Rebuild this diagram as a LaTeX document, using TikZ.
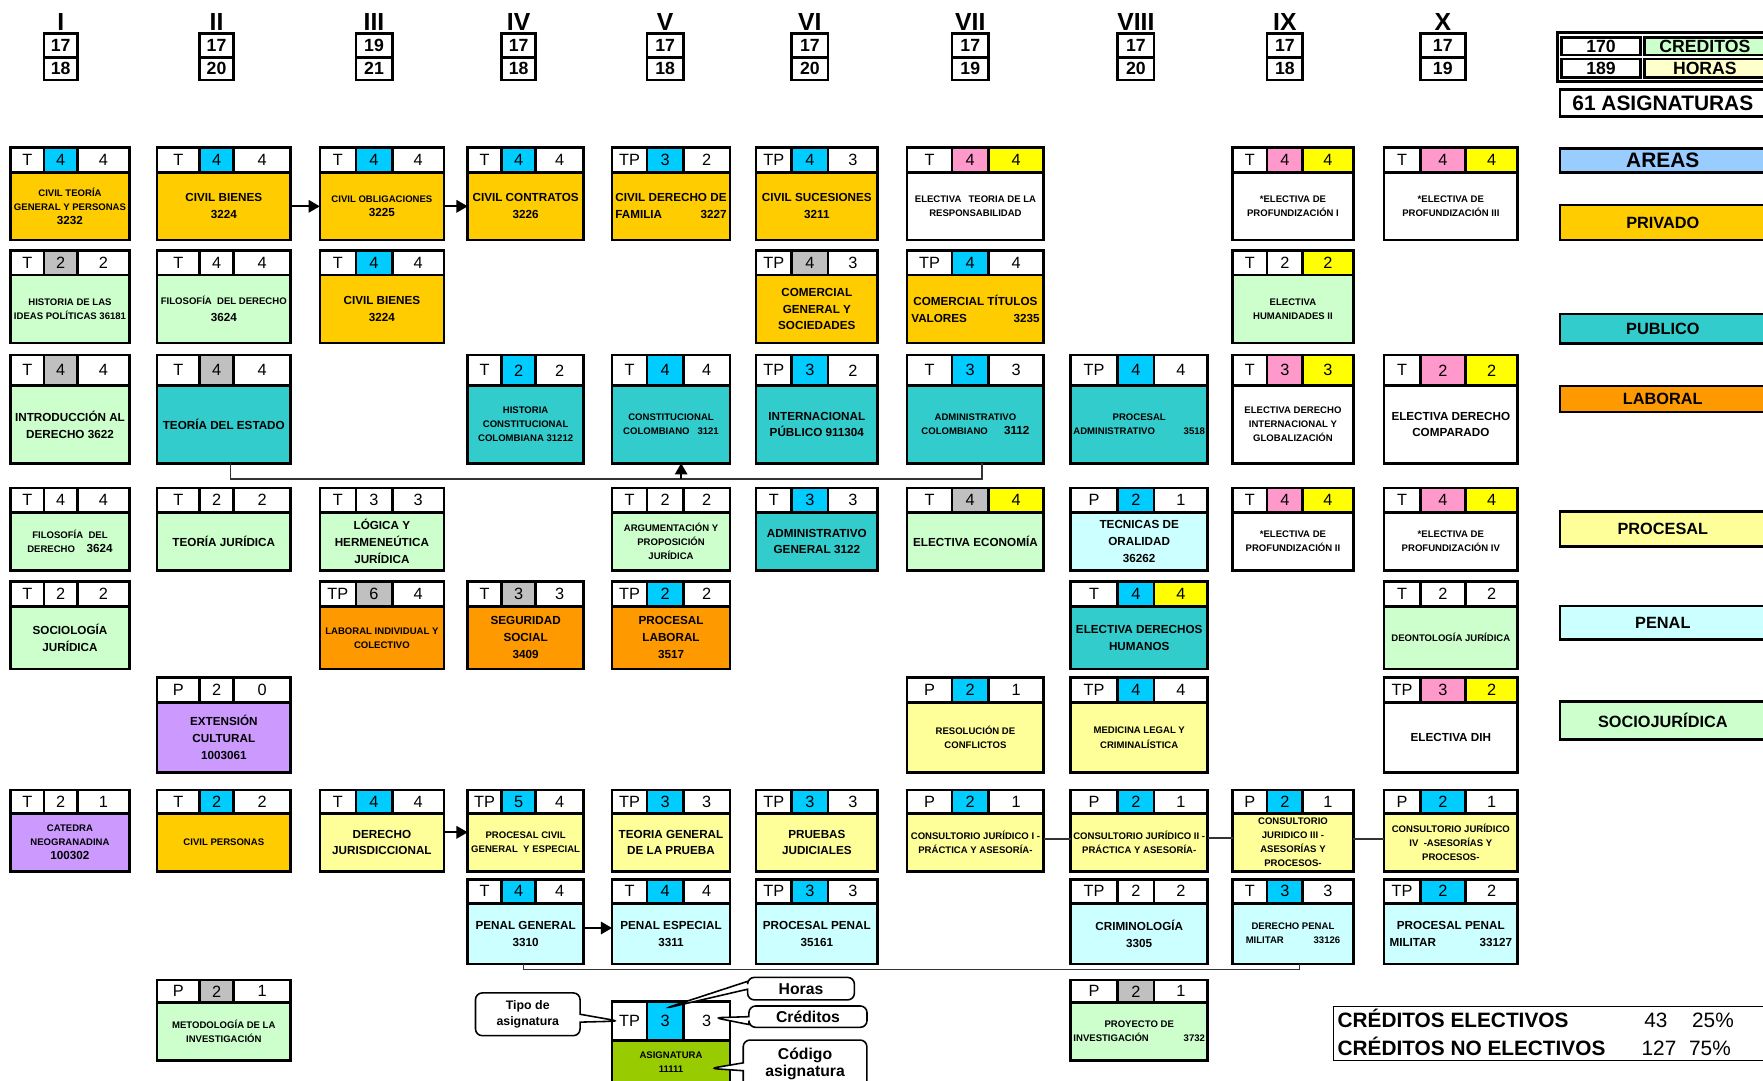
\documentclass[tikz,border=0pt]{standalone}
\usepackage{fontspec}
\setmainfont{Liberation Sans}
\usepackage{tikz}
\usetikzlibrary{positioning, arrows.meta, shapes.callouts, calc}

\definecolor{privado}{HTML}{FFCC00}
\definecolor{publico}{HTML}{33CCCC}
\definecolor{laboral}{HTML}{FF9900}
\definecolor{procesal}{HTML}{FFFF99}
\definecolor{penal}{HTML}{CCFFFF}
\definecolor{sociojur}{HTML}{CCFFCC}
\definecolor{areas}{HTML}{99CCFF}
\definecolor{morado}{HTML}{CC99FF}
\definecolor{verdeleg}{HTML}{99CC00}
\definecolor{celeste}{HTML}{00CCFF}
\definecolor{gris}{HTML}{C0C0C0}
\definecolor{rosa}{HTML}{FF99CC}
\definecolor{amarillo}{HTML}{FFFF00}
\definecolor{horascol}{HTML}{FFFFCC}

\newcommand{\fG}{\fontsize{10.4}{15}\selectfont\bfseries}
\newcommand{\fP}{\fontsize{8.5}{12.5}\selectfont\bfseries}
\newcommand{\dosl}[3]{\hbox to #1pt{#2\hfill #3}}

\tikzstyle{celda} = [draw, line width=2.4pt]
\tikzstyle{cuerpo} = [rectangle, draw, line width=2.4pt, inner sep=0pt, outer sep=0pt, anchor=north west, align=center, font=\fG]
\tikzstyle{digito} = [inner sep=0pt, font=\fontsize{14.5}{14.5}\selectfont]
\tikzstyle{romano} = [inner sep=0pt, font=\fontsize{22}{22}\selectfont\bfseries]
\tikzstyle{semnum} = [inner sep=0pt, font=\fontsize{15.7}{16}\selectfont\bfseries]
\tikzstyle{leyenda} = [rectangle, draw, line width=2.4pt, anchor=north west, inner sep=0pt, outer sep=0pt, font=\fontsize{14.5}{15}\selectfont\bfseries]
\tikzstyle{flecha} = [draw, line width=1.8pt, -{Triangle[length=10pt, width=11pt]}]
\tikzstyle{conector} = [draw, line width=1.3pt, black!80]
\tikzstyle{nota} = [rectangle callout, draw, line width=1.4pt, rounded corners=6pt, fill=white, inner sep=1pt, align=center, callout pointer width=7pt, font=\fontsize{14}{17}\selectfont\bfseries]
\tikzstyle{credt} = [inner sep=0pt, anchor=base west, font=\fontsize{18.5}{20}\selectfont\bfseries]
\tikzstyle{credn} = [inner sep=0pt, anchor=base, font=\fontsize{18.5}{20}\selectfont]

\tikzstyle{priv} = [fill=privado]
\tikzstyle{publ} = [fill=publico]
\tikzstyle{labo} = [fill=laboral]
\tikzstyle{proc} = [fill=procesal]
\tikzstyle{pena} = [fill=penal]
\tikzstyle{socio} = [fill=sociojur]
\tikzstyle{elec} = [fill=white]
\tikzstyle{mora} = [fill=morado]
\tikzstyle{muestra} = [fill=verdeleg]

% columns: left / end of type cell / end of middle cell / right
\def\columnaI{9.5/39/69/115}
\def\columnaII{139.5/177.6/207.6/258.6}
\def\columnaIII{284.5/316.5/348.8/394.8}
\def\columnaIV{416/446/476.5/519}
\def\columnaV{544.4/575.4/607.7/649.2}
\def\columnaVI{672.4/704/736.5/780.6}
\def\columnaVII{806.8/846.6/879.3/928.3}
\def\columnaVIII{952.2/994/1026.4/1074.2}
\def\columnaIX{1096.3/1126.9/1158.5/1203.6}
\def\columnaX{1230.8/1263.1/1303.3/1349.9}
% rows: top / end of header / bottom
\def\filaA{131.3/153.6/213.4}
\def\filaB{223/244.6/305}
\def\filaC{315.7/343/412}
\def\filaD{434/455.6/507.5}
\def\filaE{517.3/539.5/595}
\def\filaF{602.7/625/687.2}
\def\filaG{702.6/723.3/775.2}
\def\filaH{782/803.4/857.3}
\def\filaI{871.6/891.7/943.3}
\def\filaL{890.8/925.5/963}

\def\parsebox#1/#2/#3/#4/#5/#6/#7\relax{\def\cL{#1}\def\cA{#2}\def\cB{#3}\def\cR{#4}\def\rT{#5}\def\rH{#6}\def\rB{#7}}
\def\parsehead#1/#2/#3/#4/#5\relax{\def\hT{#1}\def\hMs{#2}\def\hM{#3}\def\hRs{#4}\def\hR{#5}}

% #1 name, #2 column, #3 row, #4 type/colour/hours/colour/credits, #5 body style, #6 text
\newcommand{\asig}[6]{%
  \edef\tmpbox{\csname columna#2\endcsname/\csname fila#3\endcsname}%
  \expandafter\parsebox\tmpbox\relax
  \parsehead#4\relax
  \filldraw[celda, fill=white] (\cL,\rT) rectangle (\cA,\rH);
  \filldraw[celda, fill=\hMs] (\cA,\rT) rectangle (\cB,\rH);
  \filldraw[celda, fill=\hRs] (\cB,\rT) rectangle (\cR,\rH);
  \node[digito] (#1-t) at ({(\cL+\cA)/2},{(\rT+\rH)/2}) {\hT};
  \node[digito] (#1-h) at ({(\cA+\cB)/2},{(\rT+\rH)/2}) {\hM};
  \node[digito] (#1-c) at ({(\cB+\cR)/2},{(\rT+\rH)/2}) {\hR};
  \node[cuerpo, #5, minimum width={\cR-\cL}, minimum height={\rB-\rH}] (#1) at (\cL,\rH) {#6};
}

% #1 name, #2 column, #3 numeral, #4 credits, #5 hours
\newcommand{\semestre}[5]{%
  \edef\tmpbox{\csname columna#2\endcsname/0/0/0}%
  \expandafter\parsebox\tmpbox\relax
  \node[romano, anchor=base] (#1) at ({(\cA+\cB)/2},26.7) {#3};
  \filldraw[celda, fill=white] (\cA,29.6) rectangle (\cB,51);
  \filldraw[celda, fill=white] (\cA,51) rectangle (\cB,71.1);
  \node[semnum] (#1-cr) at ({(\cA+\cB)/2},40.3) {#4};
  \node[semnum] (#1-hr) at ({(\cA+\cB)/2},61) {#5};
}

\begin{document}
\begin{tikzpicture}[x=1pt, y=-1pt]
        \useasboundingbox (0,0) rectangle (1568,961);
        \fill[white] (0,0) rectangle (1568,961);
        \clip (0,0) rectangle (1568,961);

        % Semesters
        \semestre{semI}{I}{I}{17}{18}
        \semestre{semII}{II}{II}{17}{20}
        \semestre{semIII}{III}{III}{19}{21}
        \semestre{semIV}{IV}{IV}{17}{18}
        \semestre{semV}{V}{V}{17}{18}
        \semestre{semVI}{VI}{VI}{17}{20}
        \semestre{semVII}{VII}{VII}{17}{19}
        \semestre{semVIII}{VIII}{VIII}{17}{20}
        \semestre{semIX}{IX}{IX}{17}{18}
        \semestre{semX}{X}{X}{17}{19}

        % Semester I
        \asig{civteoria}{I}{A}{T/celeste/4/white/4}{priv, font=\fP}{CIVIL TEORÍA\\GENERAL Y PERSONAS\\{\fG 3232}}
        \asig{histideas}{I}{B}{T/gris/2/white/2}{socio, font=\fP}{HISTORIA DE LAS\\IDEAS POLÍTICAS 36181}
        \asig{intder}{I}{C}{T/gris/4/white/4}{socio}{INTRODUCCIÓN AL\\DERECHO 3622}
        \asig{filder1}{I}{D}{T/white/4/white/4}{socio, font=\fP}{FILOSOFÍA\ \ DEL\\\dosl{76}{DERECHO}{{\fG 3624}}}
        \asig{socjur}{I}{E}{T/white/2/white/2}{socio}{SOCIOLOGÍA\\JURÍDICA}
        \asig{catedra}{I}{G}{T/white/2/white/1}{mora, font=\fP}{CATEDRA\\NEOGRANADINA\\{\fG 100302}}

        % Semester II
        \asig{civbienes}{II}{A}{T/celeste/4/white/4}{priv}{CIVIL BIENES\\3224}
        \asig{filder2}{II}{B}{T/white/4/white/4}{socio}{{\fP FILOSOFÍA\ \ DEL DERECHO}\\3624}
        \asig{teoest}{II}{C}{T/gris/4/white/4}{publ}{TEORÍA DEL ESTADO}
        \asig{teojur}{II}{D}{T/white/2/white/2}{socio}{TEORÍA JURÍDICA}
        \asig{extcult}{II}{F}{P/white/2/white/0}{mora}{EXTENSIÓN\\CULTURAL\\1003061}
        \asig{civper}{II}{G}{T/celeste/2/white/2}{priv, font=\fP}{CIVIL PERSONAS}
        \asig{metodo}{II}{I}{P/gris/2/white/1}{socio, font=\fP}{METODOLOGÍA DE LA\\INVESTIGACIÓN}

        % Semester III
        \asig{civoblig}{III}{A}{T/celeste/4/white/4}{priv, font=\fP}{CIVIL OBLIGACIONES\\{\fG 3225}}
        \asig{civbienes3}{III}{B}{T/celeste/4/white/4}{priv}{CIVIL BIENES\\3224}
        \asig{logica}{III}{D}{T/white/3/white/3}{socio}{LÓGICA Y\\HERMENEÚTICA\\JURÍDICA}
        \asig{labind}{III}{E}{TP/gris/6/white/4}{labo, font=\fP}{LABORAL INDIVIDUAL Y\\COLECTIVO}
        \asig{derjur}{III}{G}{T/celeste/4/white/4}{proc}{DERECHO\\JURISDICCIONAL}

        % Semester IV
        \asig{civcontr}{IV}{A}{T/celeste/4/white/4}{priv}{CIVIL CONTRATOS\\3226}
        \asig{histconst}{IV}{C}{T/celeste/2/white/2}{publ, font=\fP}{HISTORIA\\CONSTITUCIONAL\\COLOMBIANA 31212}
        \asig{segsoc}{IV}{E}{T/gris/3/white/3}{labo}{SEGURIDAD\\SOCIAL\\3409}
        \asig{proccivil}{IV}{G}{TP/celeste/5/white/4}{proc, font=\fP}{PROCESAL CIVIL\\GENERAL\ \ Y ESPECIAL}
        \asig{pengen}{IV}{H}{T/celeste/4/white/4}{pena}{PENAL GENERAL\\3310}

        % Semester V
        \asig{civfam}{V}{A}{TP/celeste/3/white/2}{priv}{CIVIL DERECHO DE\\\dosl{99}{FAMILIA}{3227}}
        \asig{constcol}{V}{C}{T/celeste/4/white/4}{publ, font=\fP}{CONSTITUCIONAL\\\dosl{85}{COLOMBIANO}{3121}}
        \asig{argum}{V}{D}{T/white/2/white/2}{socio, font=\fP}{ARGUMENTACIÓN Y\\PROPOSICIÓN\\JURÍDICA}
        \asig{proclab}{V}{E}{TP/celeste/2/white/2}{labo}{PROCESAL\\LABORAL\\3517}
        \asig{teoprueba}{V}{G}{TP/celeste/3/white/3}{proc}{TEORIA GENERAL\\DE LA PRUEBA}
        \asig{penesp}{V}{H}{T/celeste/4/white/4}{pena}{PENAL ESPECIAL\\3311}

        % Semester VI
        \asig{civsuc}{VI}{A}{TP/celeste/4/white/3}{priv}{CIVIL SUCESIONES\\3211}
        \asig{comgen}{VI}{B}{TP/gris/4/white/3}{priv}{COMERCIAL\\GENERAL Y\\SOCIEDADES}
        \asig{intpub}{VI}{C}{TP/celeste/3/white/2}{publ}{INTERNACIONAL\\PÚBLICO 911304}
        \asig{admgen}{VI}{D}{T/celeste/3/white/3}{publ}{ADMINISTRATIVO\\GENERAL 3122}
        \asig{pruebas}{VI}{G}{TP/celeste/3/white/3}{proc}{PRUEBAS\\JUDICIALES}
        \asig{procpen}{VI}{H}{TP/celeste/3/white/3}{pena}{PROCESAL PENAL\\35161}

        % Semester VII
        \asig{electres}{VII}{A}{T/rosa/4/amarillo/4}{elec, font=\fP}{ELECTIVA\hspace{4pt} TEORIA DE LA\\RESPONSABILIDAD}
        \asig{comtit}{VII}{B}{TP/celeste/4/white/4}{priv}{COMERCIAL TÍTULOS\\\dosl{114}{VALORES}{3235}}
        \asig{admcol}{VII}{C}{T/celeste/3/white/3}{publ, font=\fP}{ADMINISTRATIVO\\\dosl{96}{COLOMBIANO}{{\fG 3112}}}
        \asig{eleco}{VII}{D}{T/gris/4/amarillo/4}{socio}{ELECTIVA ECONOMÍA}
        \asig{resconf}{VII}{F}{P/celeste/2/white/1}{proc, font=\fP}{RESOLUCIÓN DE\\CONFLICTOS}
        \asig{cons1}{VII}{G}{P/celeste/2/white/1}{proc, font=\fP}{CONSULTORIO JURÍDICO I -\\PRÁCTICA Y ASESORÍA-}

        % Semester VIII
        \asig{procadm}{VIII}{C}{TP/celeste/4/white/4}{publ, font=\fP}{PROCESAL\\\dosl{117}{ADMINISTRATIVO}{3518}}
        \asig{tecoral}{VIII}{D}{P/celeste/2/white/1}{pena}{TECNICAS DE\\ORALIDAD\\36262}
        \asig{elddhh}{VIII}{E}{T/celeste/4/amarillo/4}{publ}{ELECTIVA DERECHOS\\HUMANOS}
        \asig{medleg}{VIII}{F}{TP/celeste/4/white/4}{proc, font=\fP}{MEDICINA LEGAL Y\\CRIMINALÍSTICA}
        \asig{cons2}{VIII}{G}{P/celeste/2/white/1}{proc, font=\fP}{CONSULTORIO JURÍDICO II -\\PRÁCTICA Y ASESORÍA-}
        \asig{crimino}{VIII}{H}{TP/white/2/white/2}{pena}{CRIMINOLOGÍA\\3305}
        \asig{proyinv}{VIII}{I}{P/gris/2/white/1}{socio, font=\fP}{PROYECTO DE\\\dosl{117}{INVESTIGACIÓN}{3732}}

        % Semester IX
        \asig{elprof1}{IX}{A}{T/rosa/4/amarillo/4}{elec, font=\fP}{*ELECTIVA DE\\PROFUNDIZACIÓN I}
        \asig{elhum2}{IX}{B}{T/white/2/amarillo/2}{socio, font=\fP}{ELECTIVA\\HUMANIDADES II}
        \asig{eldi}{IX}{C}{T/rosa/3/amarillo/3}{elec, font=\fP}{ELECTIVA DERECHO\\INTERNACIONAL Y\\GLOBALIZACIÓN}
        \asig{elprof2}{IX}{D}{T/rosa/4/amarillo/4}{elec, font=\fP}{*ELECTIVA DE\\PROFUNDIZACIÓN II}
        \asig{cons3}{IX}{G}{P/celeste/2/white/1}{proc, font=\fP}{CONSULTORIO\\JURIDICO III -\\ASESORÍAS Y\\PROCESOS-}
        \asig{dpmil}{IX}{H}{T/celeste/3/white/3}{pena, font=\fP}{DERECHO PENAL\\\dosl{84}{MILITAR}{33126}}

        % Semester X
        \asig{elprof3}{X}{A}{T/rosa/4/amarillo/4}{elec, font=\fP}{*ELECTIVA DE\\PROFUNDIZACIÓN III}
        \asig{elcomp}{X}{C}{T/rosa/2/amarillo/2}{elec}{ELECTIVA DERECHO\\COMPARADO}
        \asig{elprof4}{X}{D}{T/rosa/4/amarillo/4}{elec, font=\fP}{*ELECTIVA DE\\PROFUNDIZACIÓN IV}
        \asig{deonto}{X}{E}{T/white/2/white/2}{socio, font=\fP}{DEONTOLOGÍA JURÍDICA}
        \asig{eldih}{X}{F}{TP/rosa/3/amarillo/2}{elec}{ELECTIVA DIH}
        \asig{cons4}{X}{G}{P/celeste/2/white/1}{proc, font=\fP}{CONSULTORIO JURÍDICO\\IV\ \ -ASESORÍAS Y\\PROCESOS-}
        \asig{ppmil}{X}{H}{TP/celeste/2/white/2}{pena}{PROCESAL PENAL\\\dosl{109}{MILITAR}{33127}}

        % Sample box
        \asig{asignatura}{V}{L}{TP/celeste/3/white/3}{muestra, font=\fP}{ASIGNATURA\\11111}

        % Edges
        \path [flecha] (civbienes.east) -- (civoblig.west);
        \path [flecha] (civoblig.east) -- (civcontr.west);
        \path [flecha] ($(derjur.east)+(0,-9)$) -- ($(proccivil.west)+(0,-9)$);
        \path [flecha] ($(pengen.east)+(0,-5)$) -- ($(penesp.west)+(0,-5)$);
        \coordinate (bus1) at ($(teoest.south)+(6,14)$);
        \path [conector] ($(teoest.south)+(6,0)$) -- (bus1) -| ($(admcol.south)+(6,0)$);
        \path [flecha] ($(constcol.south)+(9,14)$) -- ($(constcol.south)+(9,0)$);
        \coordinate (bus2) at ($(pengen.south)+(-2,5)$);
        \path [conector] ($(pengen.south)+(-2,0)$) -- (bus2) -| ($(dpmil.south)+(6,0)$);
        \path [conector] ($(cons1.east)+(0,-3)$) -- ($(cons2.west)+(0,-3)$);
        \path [conector] ($(cons2.east)+(0,-4)$) -- ($(cons3.west)+(0,-4)$);
        \path [conector] ($(cons3.east)+(0,-3)$) -- ($(cons4.west)+(0,-3)$);

        % Callouts
        \node (tipo) [nota, minimum width=93pt, minimum height=38pt, font=\fontsize{11}{14}\selectfont\bfseries, callout absolute pointer={(asignatura-t.west)}] at (469.4,902.1) {Tipo de\\asignatura};
        \node (horas) [nota, minimum width=95pt, minimum height=20pt, callout absolute pointer={($(asignatura-h.north)+(0,-6)$)}] at (712.4,879.3) {Horas};
        \node (creditos) [nota, minimum width=105pt, minimum height=19pt, callout absolute pointer={($(asignatura-c.east)+(3,-3)$)}] at (718.6,904.2) {Créditos};
        \node (codigo) [nota, minimum width=110pt, minimum height=42pt, font=\fontsize{14}{15}\selectfont\bfseries, callout absolute pointer={($(asignatura.center)+(35,6)$)}] at (716,946) {Código\\asignatura};

        % Legend
        \draw [celda] (1384.9,28.8) rectangle (1580,72.6);
        \node (tot170) [leyenda, fill=white, minimum width=69.8pt, minimum height=15.4pt, font=\fontsize{15.7}{16}\selectfont\bfseries] at (1389,33.5) {170};
        \node (tot189) [leyenda, fill=white, minimum width=69.8pt, minimum height=16.3pt, font=\fontsize{15.7}{16}\selectfont\bfseries] at (1389,52.5) {189};
        \node (lcred) [leyenda, fill=sociojur, minimum width=107pt, minimum height=15.4pt, font=\fontsize{15.7}{16}\selectfont\bfseries] at (1462.8,33.5) {CREDITOS};
        \node (lhoras) [leyenda, fill=horascol, minimum width=107pt, minimum height=16.3pt, font=\fontsize{15.7}{16}\selectfont\bfseries] at (1462.8,52.5) {HORAS};
        \node (total) [leyenda, fill=white, minimum width=183pt, minimum height=24.3pt, font=\fontsize{18.6}{19}\selectfont\bfseries] at (1387.4,79.5) {61 ASIGNATURAS};
        \node (lareas) [leyenda, fill=areas, minimum width=183pt, minimum height=21.6pt, font=\fontsize{18.6}{19}\selectfont\bfseries] at (1387.4,132) {AREAS};
        \node (lpriv) [leyenda, priv, minimum width=183pt, minimum height=31.1pt] at (1387.4,182.3) {PRIVADO};
        \node (lpubl) [leyenda, publ, minimum width=183pt, minimum height=26pt] at (1387.4,279.3) {PUBLICO};
        \node (llabo) [leyenda, labo, minimum width=183pt, minimum height=23.1pt] at (1387.4,343.3) {LABORAL};
        \node (lproc) [leyenda, proc, minimum width=183pt, minimum height=31.2pt] at (1387.4,455) {PROCESAL};
        \node (lpena) [leyenda, pena, minimum width=183pt, minimum height=29.6pt] at (1387.4,539) {PENAL};
        \node (lsocio) [leyenda, socio, minimum width=183pt, minimum height=34pt] at (1387.4,624) {SOCIOJURÍDICA};

        % Elective credits
        \node (credbox) [draw, line width=1.2pt, inner sep=0pt, anchor=north west, minimum width=395pt, minimum height=48pt] at (1185.6,894.7) {};
        \node (celec) [credt] at (1189.5,913.5) {CRÉDITOS ELECTIVOS};
        \node (cnoelec) [credt] at (1189.5,938.5) {CRÉDITOS NO ELECTIVOS};
        \node (n43) [credn] at (1472.7,913.5) {43};
        \node (p25) [credn] at (1523.5,913.5) {25\%};
        \node (n127) [credn] at (1475.5,938.5) {127};
        \node (p75) [credn] at (1520.8,938.5) {75\%};

    \end{tikzpicture}
\end{document}
